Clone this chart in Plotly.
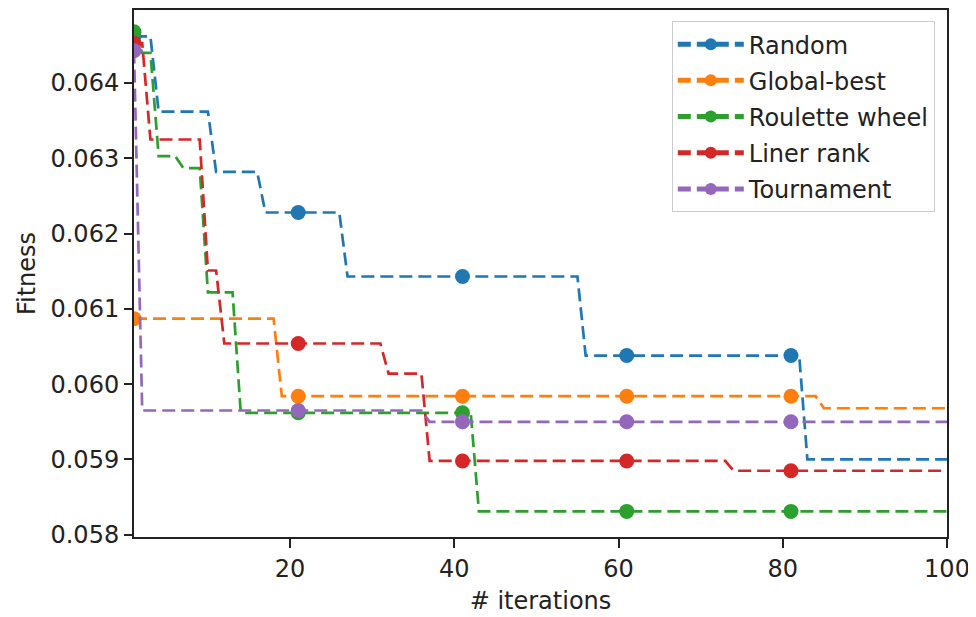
import plotly.graph_objects as go

# ---- data ----
iterations = list(range(1, 101))

random_sel = ([0.06462] * 3 + [0.06362] * 7 + [0.06282] * 6 + [0.06228] * 10
              + [0.06143] * 29 + [0.06038] * 27 + [0.05900] * 18)
global_best = [0.06087] * 18 + [0.05984] * 66 + [0.05968] * 16
roulette_wheel = ([0.06468] * 1 + [0.06440] * 2 + [0.06303] * 3 + [0.06287] * 3
                  + [0.06122] * 4 + [0.05962] * 29 + [0.05831] * 58)
liner_rank = ([0.06453] * 2 + [0.06325] * 7 + [0.06151] * 2 + [0.06054] * 20
              + [0.06014] * 5 + [0.05898] * 37 + [0.05885] * 27)
tournament = [0.06443] * 1 + [0.05965] * 35 + [0.05950] * 64

series_names = ["Random", "Global-best", "Roulette wheel", "Liner rank", "Tournament"]
series_values = [random_sel, global_best, roulette_wheel, liner_rank, tournament]
series_colors = ["#1f77b4", "#ff7f0e", "#2ca02c", "#d62728", "#9467bd"]

x_tickvals = [20, 40, 60, 80, 100]
y_tickvals = [0.058, 0.059, 0.060, 0.061, 0.062, 0.063, 0.064]
y_ticktext = ["0.058", "0.059", "0.060", "0.061", "0.062", "0.063", "0.064"]

MARK_EVERY = 20

fig = go.Figure()
for name, vals, col in zip(series_names, series_values, series_colors):
    sizes = [15 if i % MARK_EVERY == 0 else 0 for i in range(len(vals))]
    fig.add_trace(go.Scatter(
        x=iterations, y=vals, name=name, legendgroup=name, mode="lines+markers",
        line=dict(color=col, width=2.7, dash="13px,6px"),
        marker=dict(color=col, size=sizes, opacity=1, line=dict(width=0)),
    ))

font_family = "DejaVu Sans"
FS = 24
fig.update_layout(
    width=968, height=609,
    margin=dict(l=126, r=29, t=0, b=80),
    paper_bgcolor="white", plot_bgcolor="white",
    font=dict(family=font_family, size=FS, color="#222222"),
    showlegend=True,
    legend=dict(
        x=0.985, xanchor="right", y=0.979, yanchor="top",
        bgcolor="rgba(255,255,255,0.85)", bordercolor="#cccccc", borderwidth=1,
        font=dict(family=font_family, size=FS, color="#222222"),
        itemsizing="constant", itemwidth=66, tracegroupgap=2,
    ),
)
fig.update_xaxes(
    range=[1, 100], tickvals=x_tickvals, ticks="outside", ticklen=9, tickwidth=1.5,
    tickcolor="#222222", showline=True, linecolor="#222222", linewidth=2, mirror=True,
    showgrid=False, zeroline=False,
    tickfont=dict(size=FS), title=dict(text="# iterations", font=dict(size=FS), standoff=10),
)
fig.update_yaxes(
    range=[0.05797, 0.06497], tickvals=y_tickvals, ticktext=y_ticktext,
    ticks="outside", ticklen=8, tickwidth=1.5, tickcolor="#222222",
    showline=True, linecolor="#222222", linewidth=2, mirror=True,
    showgrid=False, zeroline=False,
    tickfont=dict(size=FS), title=dict(text="Fitness", font=dict(size=FS), standoff=8),
)

fig.write_html("out.html")
